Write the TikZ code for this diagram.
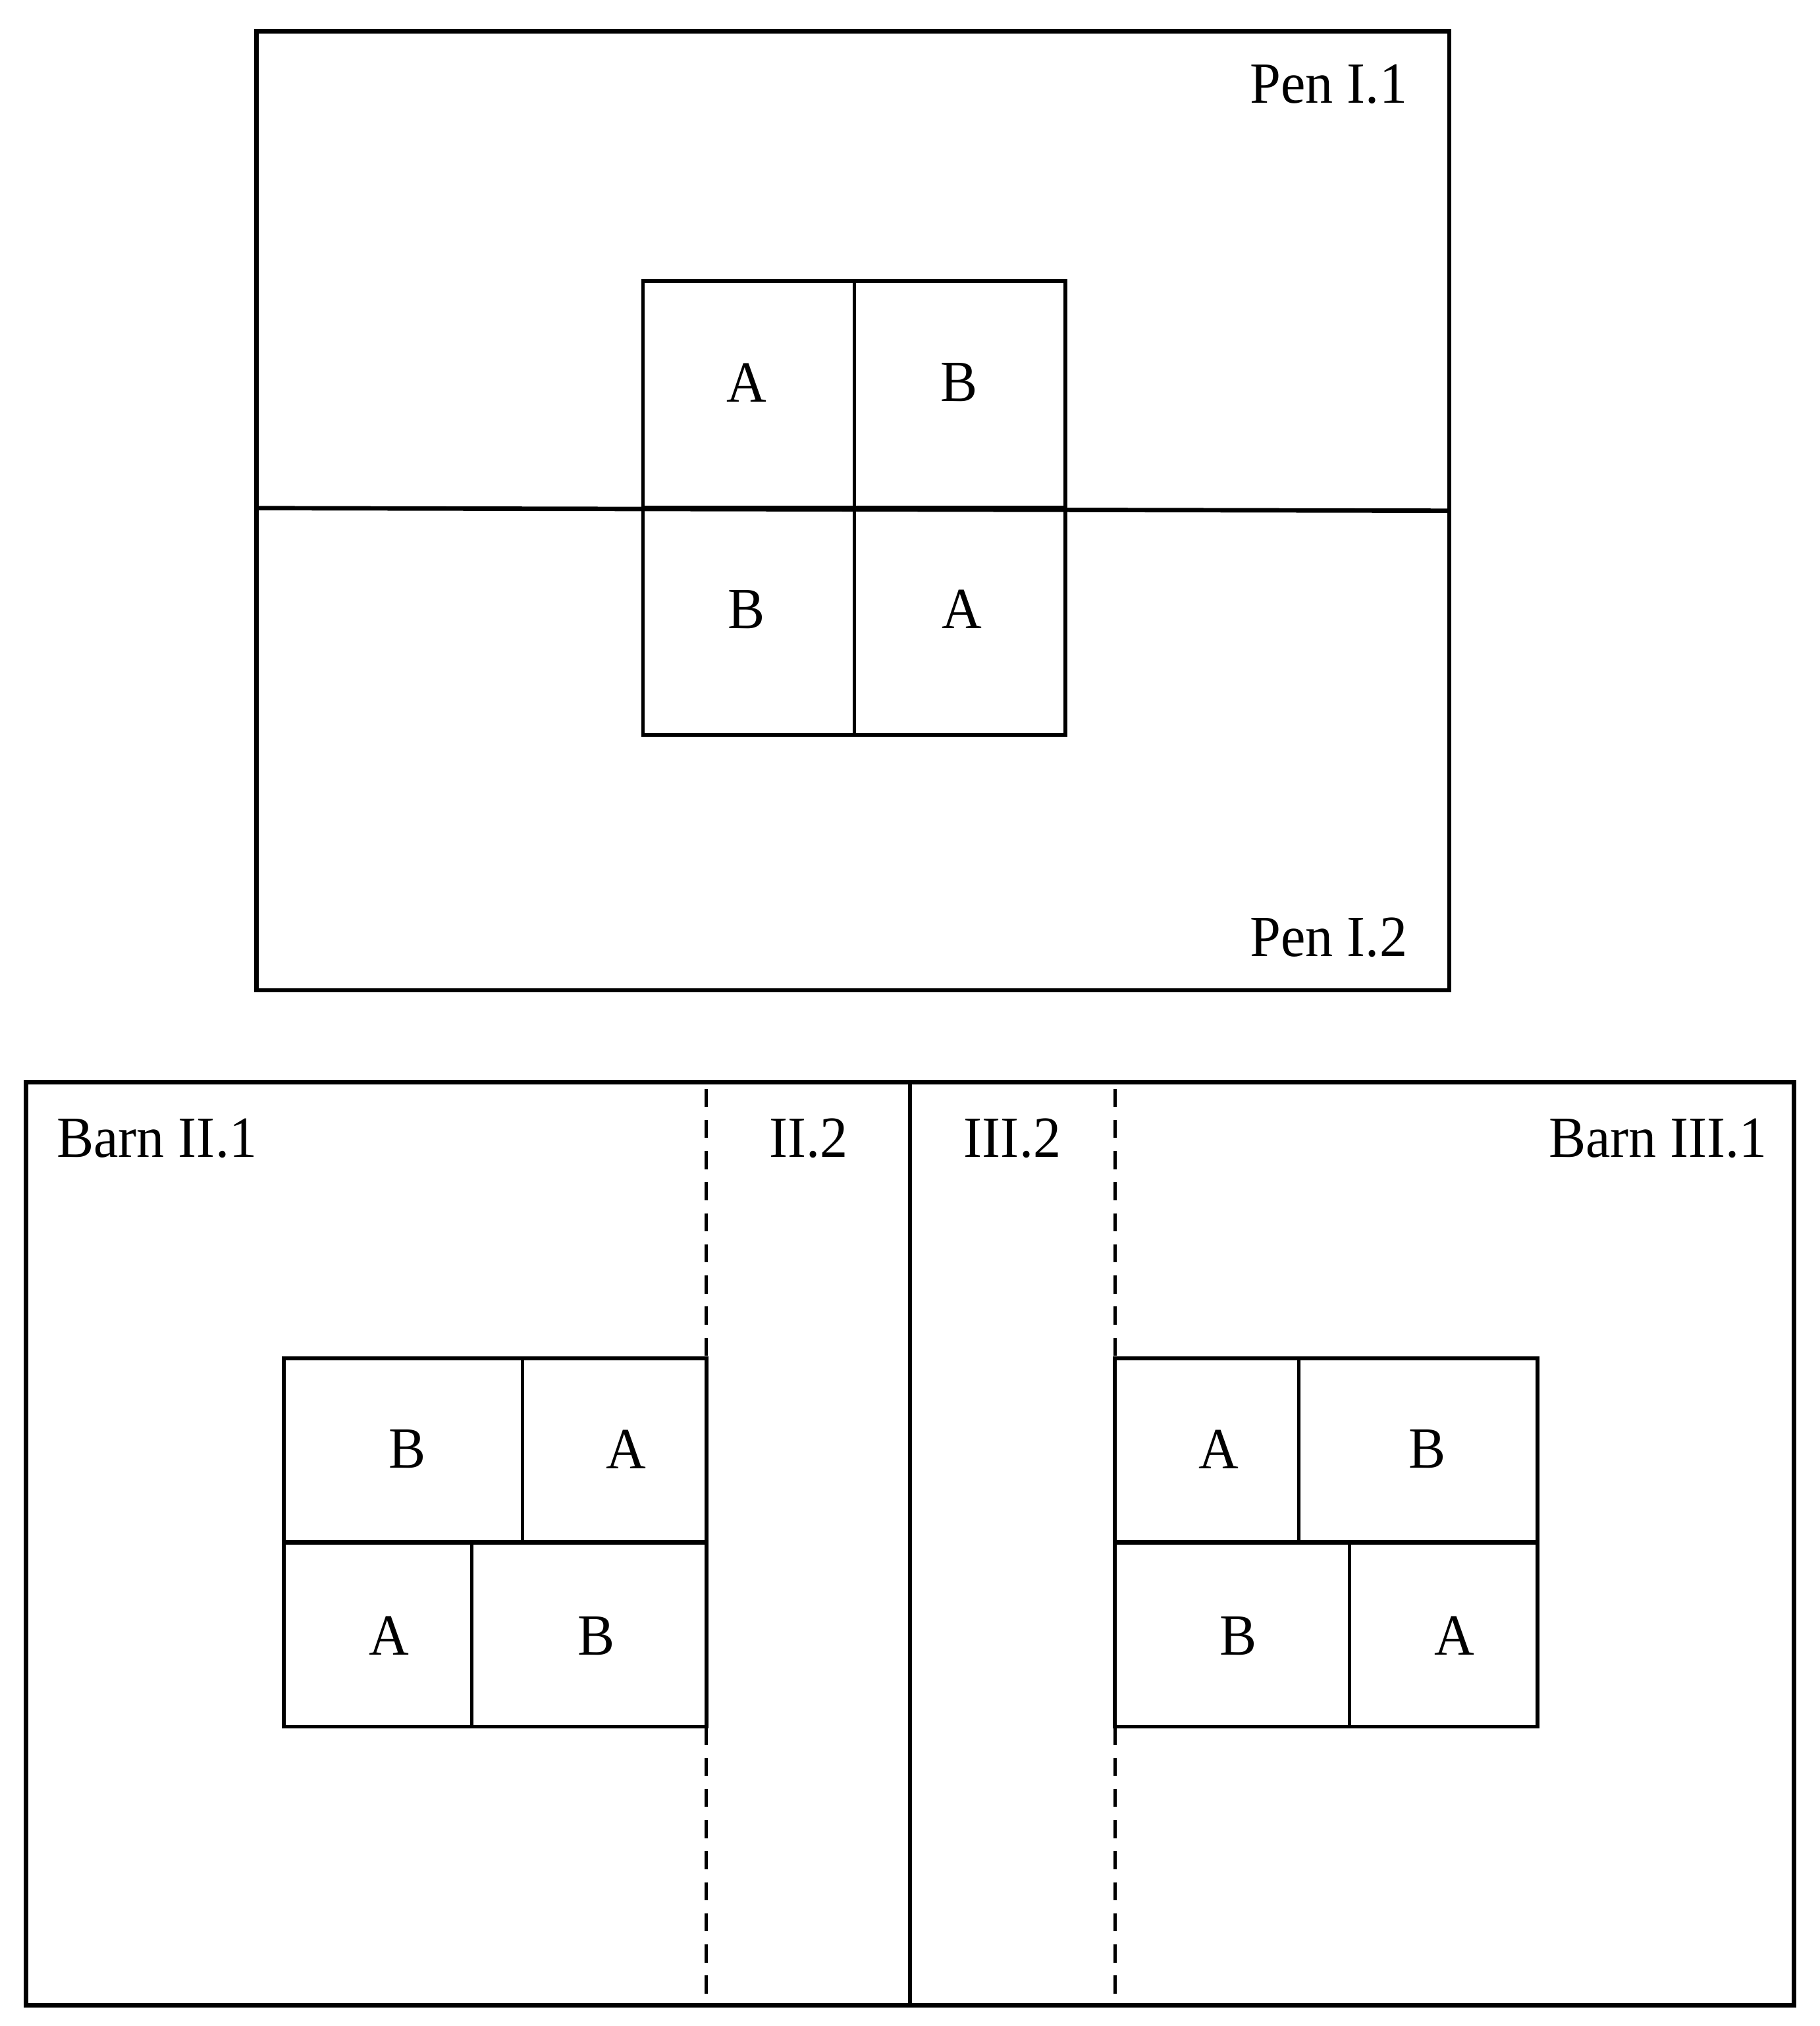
\documentclass[tikz,border=0pt]{standalone}
\usepackage{fontspec}
\setmainfont{Liberation Serif}
\begin{document}
\begin{tikzpicture}[x=0.5pt,y=-0.5pt,
  outer/.style={line width=1.7pt},
  inner/.style={line width=1.4pt},
  dsh/.style={line width=1.3pt,dash pattern=on 7pt off 5pt},
  lbl/.style={inner sep=0pt,font=\fontsize{22.5}{26}\selectfont}]
\useasboundingbox (0,0) rectangle (1404,1563);
% ---------- top pen ----------
\draw[outer] (198,24) rectangle (1118,764);
\draw[outer] (198,392) -- (1118,394);
\draw[inner] (496,217) rectangle (822,567);
\draw[inner] (659,217) -- (659,567);
\draw[outer] (496,392) -- (822,392);
\node[lbl] (p1) at (1025,65) {\scalebox{0.95}[1]{Pen I.1}};
\node[lbl] (p2) at (1025,723) {\scalebox{0.95}[1]{Pen I.2}};
\node[lbl] (a1) at (576,295) {\scalebox{0.95}[1]{A}};
\node[lbl] (b1) at (740,295) {\scalebox{0.95}[1]{B}};
\node[lbl] (b2) at (576,470) {\scalebox{0.95}[1]{B}};
\node[lbl] (a2) at (742,470) {\scalebox{0.95}[1]{A}};
% ---------- bottom barns ----------
\draw[outer] (20,835) rectangle (1384,1547);
\draw[inner] (702,835) -- (702,1547);
\draw[dsh] (545,840) -- (545,1048);
\draw[dsh] (545,1332) -- (545,1547);
\draw[dsh] (860,840) -- (860,1048);
\draw[dsh] (860,1332) -- (860,1547);
\node[lbl] (b21) at (121,878) {\scalebox{0.95}[1]{Barn II.1}};
\node[lbl] (b22) at (624,878) {\scalebox{0.95}[1]{II.2}};
\node[lbl] (b32) at (781,878) {\scalebox{0.95}[1]{III.2}};
\node[lbl] (b31) at (1279,878) {\scalebox{0.95}[1]{Barn III.1}};
% left grid
\draw[inner] (219,1048) rectangle (545,1332);
\draw[outer] (219,1190) -- (545,1190);
\draw[inner] (403,1048) -- (403,1190);
\draw[inner] (364,1190) -- (364,1332);
\node[lbl] (l1) at (314,1118) {\scalebox{0.95}[1]{B}};
\node[lbl] (l2) at (483,1118) {\scalebox{0.95}[1]{A}};
\node[lbl] (l3) at (300,1262) {\scalebox{0.95}[1]{A}};
\node[lbl] (l4) at (460,1262) {\scalebox{0.95}[1]{B}};
% right grid
\draw[inner] (860,1048) rectangle (1186,1332);
\draw[outer] (860,1190) -- (1186,1190);
\draw[inner] (1002,1048) -- (1002,1190);
\draw[inner] (1041,1190) -- (1041,1332);
\node[lbl] (r1) at (940,1118) {\scalebox{0.95}[1]{A}};
\node[lbl] (r2) at (1101,1118) {\scalebox{0.95}[1]{B}};
\node[lbl] (r3) at (955,1262) {\scalebox{0.95}[1]{B}};
\node[lbl] (r4) at (1122,1262) {\scalebox{0.95}[1]{A}};
\end{tikzpicture}
\end{document}
